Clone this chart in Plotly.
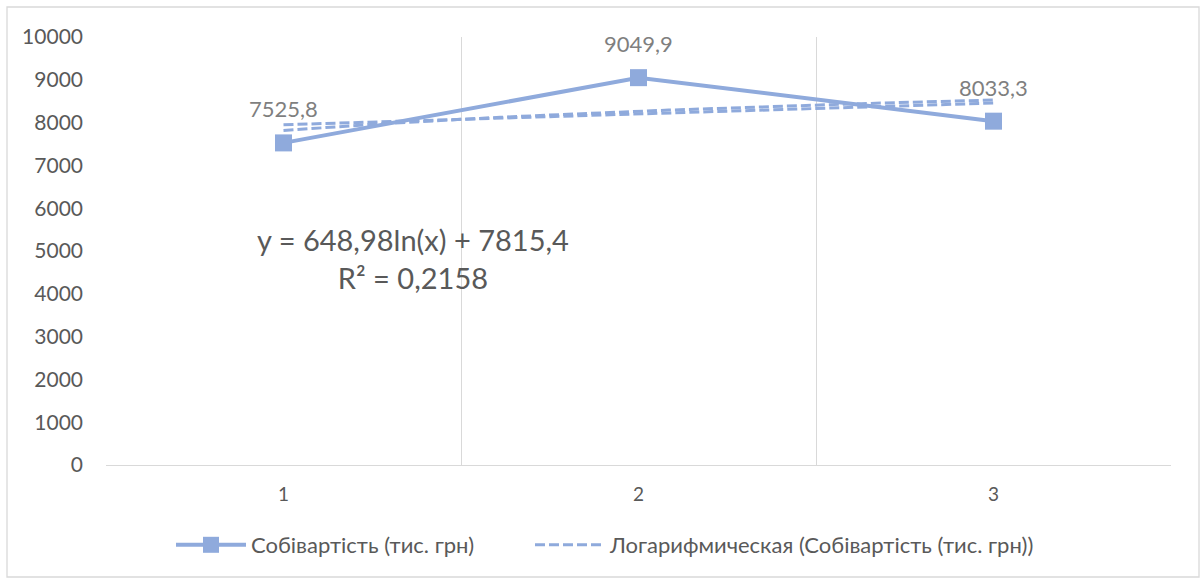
import numpy as np
import plotly.graph_objects as go

# ---- data ----
categories = [1, 2, 3]
cost_values = [7525.8, 9049.9, 8033.3]
cost_labels = ["7525,8", "9049,9", "8033,3"]
series_name = "Собівартість (тис. грн)"
trend_name = "Логарифмическая (Собівартість (тис. грн))"
trend_equation = "y = 648,98ln(x) + 7815,4"
trend_r2 = "R² = 0,2158"
y_ticks = [0, 1000, 2000, 3000, 4000, 5000, 6000, 7000, 8000, 9000, 10000]
y_tick_labels = ["0", "1000", "2000", "3000", "4000", "5000", "6000", "7000", "8000", "9000", "10000"]

COLOR = "#8FAADC"
TEXT = "#595959"
GRID = "#D9D9D9"
FONT = "Lato, Carlito, 'Noto Sans', sans-serif"

x = np.array(categories, dtype=float)
y = np.array(cost_values, dtype=float)

# fitted trend lines (logarithmic shown in legend, linear hidden)
a_log, b_log = np.polyfit(np.log(x), y, 1)
a_lin, b_lin = np.polyfit(x, y, 1)
xt = np.linspace(x.min(), x.max(), 60)

# layout geometry in pixels
W, H = 1203, 580
L, R, T, B = 106, 32, 37, 115
pw, ph = W - L - R, H - T - B

fig = go.Figure()

fig.add_trace(go.Scatter(
    x=xt, y=a_lin * xt + b_lin, mode="lines",
    line=dict(color=COLOR, width=3, dash="10px,4px"),
    showlegend=False, hoverinfo="skip"))

fig.add_trace(go.Scatter(
    x=categories, y=cost_values, mode="lines+markers", name=series_name,
    line=dict(color=COLOR, width=4),
    marker=dict(symbol="square", size=17, color=COLOR),
    legend="legend"))

fig.add_trace(go.Scatter(
    x=xt, y=a_log * np.log(xt) + b_log, mode="lines", name=trend_name,
    line=dict(color=COLOR, width=3, dash="10px,4px"),
    hoverinfo="skip", legend="legend2"))

for cx, cy, lab in zip(categories, cost_values, cost_labels):
    fig.add_annotation(x=cx, y=cy, text=lab, showarrow=False, yshift=34,
                       font=dict(family=FONT, size=22, color="#7F7F7F"))

fig.add_annotation(x=(413 - L) / pw, y=(465 - 258) / ph, xref="paper", yref="paper",
                   xanchor="center", yanchor="middle",
                   text=trend_equation + "<br>" + trend_r2, showarrow=False,
                   align="center", font=dict(family=FONT, size=29, color=TEXT))

# outer chart border
fig.add_shape(type="rect", xref="paper", yref="paper",
              x0=(7 - L) / pw, x1=(1199 - L) / pw,
              y0=(465 - 577) / ph, y1=(465 - 7) / ph,
              line=dict(color=GRID, width=1.3), layer="below")

leg_common = dict(orientation="h", xanchor="left", yanchor="middle",
                  y=(465 - 545) / ph, itemwidth=70, bgcolor="rgba(0,0,0,0)",
                  font=dict(family=FONT, size=22, color=TEXT))

fig.update_layout(
    width=W, height=H,
    margin=dict(l=L, r=R, t=T, b=B),
    paper_bgcolor="white", plot_bgcolor="white",
    font=dict(family=FONT, color=TEXT, size=19),
    legend=dict(x=(171 - L) / pw, **leg_common),
    legend2=dict(x=(530 - L) / pw, **leg_common),
    xaxis=dict(range=[0.5, 3.5], tickvals=categories, ticktext=[str(c) for c in categories],
               showgrid=False, zeroline=False, showline=True, linecolor=GRID, linewidth=1.3,
               ticks="", ticklabelstandoff=12, tickfont=dict(size=19, color=TEXT),
               minor=dict(tick0=0.5, dtick=1, showgrid=True, gridcolor=GRID, gridwidth=1.3)),
    yaxis=dict(range=[0, 10000], tickvals=y_ticks, ticktext=y_tick_labels,
               showgrid=False, zeroline=False,
               showline=False, ticks="", ticklabelstandoff=22,
               tickfont=dict(size=21, color=TEXT)),
)

fig.write_html("out.html")
